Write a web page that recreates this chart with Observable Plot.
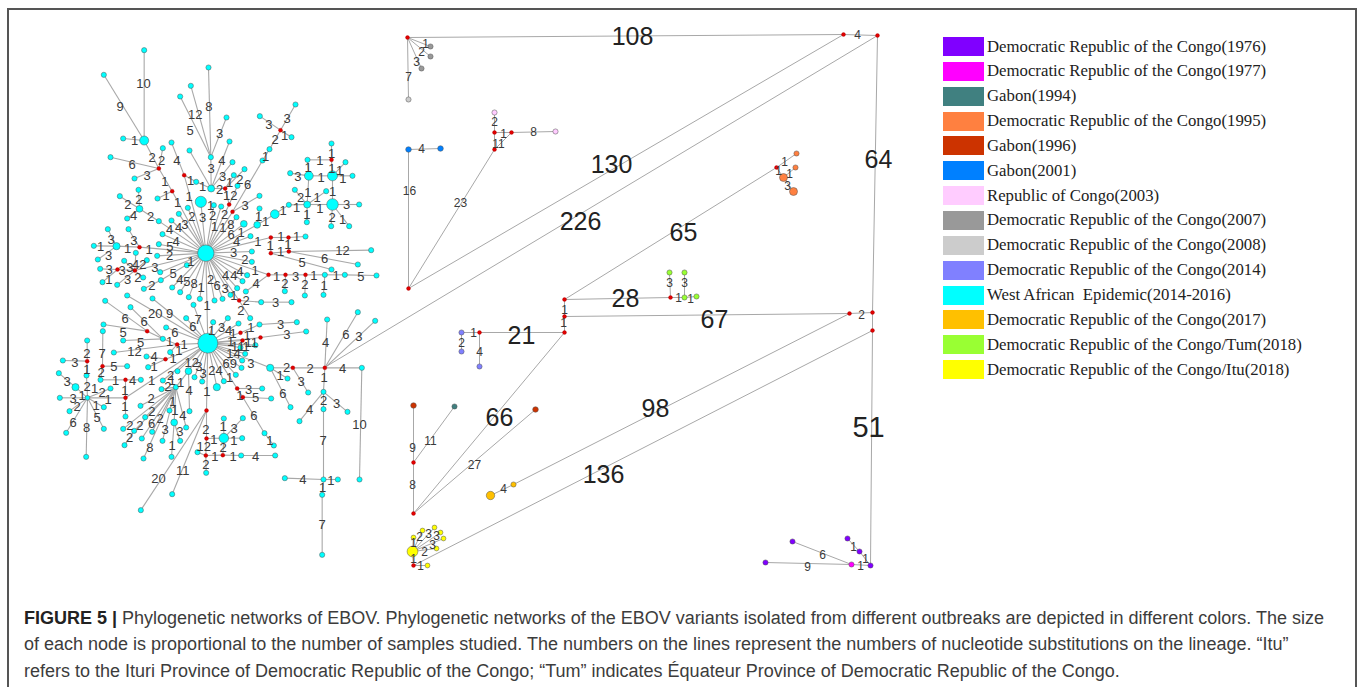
<!DOCTYPE html>
<html>
<head>
<meta charset="utf-8">
<script src="https://cdn.jsdelivr.net/npm/d3@7"></script>
<script src="https://cdn.jsdelivr.net/npm/@observablehq/plot@0.6"></script>
<style>
html,body{margin:0;padding:0;background:#fff;overflow:hidden}
#wrap{position:relative;width:1357px;height:687px;overflow:hidden}
#frame{position:absolute;left:7px;top:8px;width:1346px;height:690px;border:2px solid #555;box-sizing:content-box;pointer-events:none}
#chart{position:absolute;left:0;top:0}
#legend{position:absolute;left:943px;top:0;font-family:"Liberation Serif",serif;font-size:16.75px;color:#222}
#legend .row{position:absolute;left:0;height:19px;white-space:pre}
#legend .sw{position:absolute;left:0;top:0;width:41px;height:19px}
#legend .tx{position:absolute;left:44px;top:-0.5px;line-height:19px}
#caption{position:absolute;left:24px;top:605px;font-family:"Liberation Sans",Arial,sans-serif;font-size:18px;line-height:26.4px;color:#3c3c3c;white-space:pre}
#caption b{color:#222}
</style>
</head>
<body>
<div id="wrap"><div id="chart"></div><div id="legend"></div><div id="caption"></div><div id="frame"></div></div>
<script>
// ---------- legend ----------
const outbreakNames = [
  "Democratic Republic of the Congo(1976)","Democratic Republic of the Congo(1977)","Gabon(1994)",
  "Democratic Republic of the Congo(1995)","Gabon(1996)","Gabon(2001)","Republic of Congo(2003)",
  "Democratic Republic of the Congo(2007)","Democratic Republic of the Congo(2008)",
  "Democratic Republic of the Congo(2014)","West African  Epidemic(2014-2016)",
  "Democratic Republic of the Congo(2017)","Democratic Republic of the Congo/Tum(2018)",
  "Democratic Republic of the Congo/Itu(2018)"];
const outbreakColors = ["#8000ff","#ff00ff","#408080","#ff8040","#cc3300","#0080ff","#ffccff",
  "#999999","#cccccc","#8080ff","#00ffff","#ffc000","#99ff33","#ffff00"];
const medianName = "median vector", medianColor = "#e00000";

// ---------- West African cluster, upper half: [centre, [neighbours...]] ----------
const northStars = [
 [[466,638],[[600,587],[604,633],[604,664],[590,704],[576,722],[560,743],[540,763],[516,775],[492,780],[448,775],[415,770],[389,755],[365,741],[331,719],[409,674],[329,695],[320,646],[325,611],[336,581],[363,540],[385,520],[412,502],[451,484],[490,494],[512,498],[558,530],[580,550],[620,553],[365,452],[401,404],[546,514],[536,492],[661,591],[654,703],[325,542],[267,620],[253,690]]],
 [[281,300],[[281,29],[160,103],[218,294],[325,384]]],
 [[325,384],[[337,323],[180,350],[252,414],[365,452]]],
 [[365,452],[[321,474]]],
 [[401,404],[[363,306],[437,424]]],
 [[437,424],[[482,444]]],
 [[482,444],[[481,350],[417,330],[537,303],[546,365],[524,444]]],
 [[481,350],[[474,81],[421,136],[389,168],[528,231]]],
 [[524,444],[[550,404],[582,386],[536,492]]],
 [[536,492],[[561,436]]],
 [[546,514],[[636,360],[627,466]]],
 [[636,360],[[657,326]]],
 [[657,326],[[690,269]]],
 [[690,269],[[628,227],[735,192],[723,290]]],
 [[620,553],[[673,521],[627,504]]],
 [[673,521],[[715,493]]],
 [[715,493],[[770,492]]],
 [[770,492],[[846,492],[769,545],[733,448],[827,452],[775,406]]],
 [[846,492],[[926,492],[842,557],[896,557],[846,406]]],
 [[775,406],[[719,398],[846,406],[771,358]]],
 [[846,406],[[843,358],[885,365],[906,406]]],
 [[843,358],[[771,358],[843,309]]],
 [[661,591],[[714,591],[661,638]]],
 [[714,591],[[765,588],[715,633]]],
 [[661,638],[[715,633],[843,687]]],
 [[715,633],[[962,629],[922,672]]],
 [[654,703],[[586,753],[705,703]]],
 [[705,703],[[703,752],[765,703]]],
 [[765,703],[[763,765],[823,703]]],
 [[823,703],[[819,763],[883,703]]],
 [[883,703],[[978,705]]],
 [[267,505],[[208,467],[264,448],[230,534],[325,542]]],
 [[198,617],[[172,566],[130,616],[142,657],[267,620]]],
 [[267,620],[[234,566]]],
 [[253,690],[[256,637],[221,661],[289,659],[201,687],[200,733],[278,711]]],
 [[201,687],[[149,685],[156,725]]],
 [[331,719],[[280,745]]]
];
const northMedians = [[325,384],[365,452],[401,404],[524,444],[536,492],[546,514],[690,269],[843,358],[661,591],[714,591],[661,638],[715,633],[654,703],[705,703],[765,703],[267,620],[253,690],[201,687]];
const northLarge = [[466,638,8.2],[281,300,4.5],[482,444,3.5],[451,484,5.6],[267,505,3.4],[198,617,3.6],[580,550,3.4],[620,553,3.4],[673,521,4.4],[770,492,3.5],[846,492,5.8],[775,406,4.4],[846,406,5]];
const northLabels = [
 [279,130,"10"],[209,198,"9"],[252,300,"1"],[305,352,"2"],[333,362,"2"],[245,373,"6"],[290,406,"3"],[379,362,"4"],[343,424,"1"],[347,467,"1"],[381,487,"1"],[416,468,"1"],[420,420,"1"],[456,440,"1"],[434,222,"12"],[419,270,"5"],[475,200,"8"],[507,280,"3"],[514,362,"4"],[482,385,"3"],[516,408,"3"],[507,448,"2"],[537,428,"1"],[568,417,"2"],[591,433,"6"],[645,350,"1"],[674,297,"2"],[655,254,"3"],[710,235,"3"],[702,287,"1"],[539,465,"12"],[584,496,"3"],[486,525,"2"],[522,522,"2"],[456,533,"3"],[480,495,"1"],[424,530,"2"],[403,554,"3"],[384,562,"4"],[357,569,"4"],[492,558,"1"],[517,562,"1"],[541,552,"8"],[542,583,"6"],[572,578,"1"],[558,604,"4"],[622,603,"1"],[549,638,"3"],[583,658,"2"],[614,692,"1"],[617,731,"4"],[568,694,"4"],[550,707,"4"],[525,707,"4"],[524,744,"3"],[500,735,"6"],[480,718,"2"],[452,741,"1"],[431,729,"8"],[409,723,"5"],[388,718,"4"],[368,701,"5"],[304,736,"2"],[421,664,"1"],[313,681,"3"],[357,647,"2"],[358,618,"5"],[377,603,"4"],[296,628,"1"],[250,600,"3"],[231,625,"1"],[182,597,"3"],[150,620,"1"],[174,646,"3"],[232,493,"2"],[265,477,"2"],[249,525,"4"],[300,530,"2"],[238,681,"3"],[266,672,"42"],[215,692,"3"],[176,688,"3"],[175,718,"1"],[231,717,"3"],[262,711,"2"],
 [645,543,"1"],[624,530,"1"],[698,511,"1"],[738,503,"1"],[808,505,"1"],[888,493,"3"],[845,533,"2"],[876,537,"1"],[846,453,"1"],[769,523,"1"],[750,473,"2"],[800,472,"1"],[772,458,"1"],[742,408,"3"],[812,411,"1"],[844,384,"1"],[808,360,"1"],[773,382,"1"],[843,340,"1"],[867,390,"1"],[877,414,"1"],[691,590,"1"],[738,590,"1"],[659,617,"1"],[712,613,"1"],[690,633,"1"],[876,632,"12"],[822,655,"6"],[755,668,"5"],[678,710,"1"],[703,730,"2"],[735,708,"3"],[763,733,"2"],[790,707,"1"],[821,735,"1"],[857,707,"1"],[931,708,"5"]
];

// ---------- West African cluster, lower half ----------
const southStars = [
 [[472,158],[[230,15],[306,24],[429,43],[407,83],[347,111],[488,95],[532,83],[564,99],[570,127],[630,141],[576,150],[615,164],[570,171],[584,190],[575,210],[573,232],[659,232],[556,253],[520,272],[499,290],[560,294],[468,360],[432,260],[455,273],[414,242],[381,242],[337,270],[380,162],[345,206],[225,322],[466,-112]]],
 [[566,30],[[466,-112],[632,35],[599,83]]],
 [[632,35],[[723,35]]],
 [[337,145],[[240,50],[380,162],[218,150],[290,122]]],
 [[290,122],[[164,31],[159,102]]],
 [[380,162],[[190,186],[359,185]]],
 [[345,206],[[288,198],[293,230]]],
 [[570,127],[[627,102]]],
 [[627,102],[[739,95]]],
 [[630,141],[[767,123]]],
 [[659,232],[[727,232],[711,264],[720,350]]],
 [[727,232],[[773,306],[823,232]]],
 [[823,232],[[922,65],[974,91],[830,87],[934,232],[819,304]]],
 [[934,232],[[927,567]]],
 [[819,304],[[747,392],[891,364],[819,356]]],
 [[819,356],[[819,567]]],
 [[819,567],[[703,563],[862,567],[815,613]]],
 [[815,613],[[815,793]]],
 [[468,360],[[271,659],[365,611],[468,444]]],
 [[468,444],[[520,443],[466,495]]],
 [[520,443],[[520,384],[577,383],[575,443],[517,494]]],
 [[466,495],[[441,485],[517,494],[467,547]]],
 [[517,494],[[572,495]]],
 [[572,495],[[674,495]]],
 [[560,294],[[635,294],[577,320]]],
 [[577,320],[[662,324],[642,428]]],
 [[642,428],[[670,465]]],
 [[414,242],[[417,362],[376,290]]],
 [[376,290],[[371,396],[407,411],[357,360],[270,346],[284,380],[251,421],[218,415],[305,424],[274,444],[336,451],[279,504],[333,296]]],
 [[371,396],[[363,499],[389,451]]],
 [[251,421],[[222,464]]],
 [[225,322],[[225,268],[111,322],[225,378]]],
 [[225,268],[[150,268],[271,268]]],
 [[150,268],[[156,227]]],
 [[156,227],[[157,122],[230,227]]],
 [[111,322],[[75,290],[28,322],[57,362],[47,427],[107,499],[160,415],[160,350],[180,294],[108,255]]],
 [[75,290],[[25,248]]],
 [[108,255],[[110,212]]],
 [[110,212],[[37,210],[110,150]]]
];
const southMedians = [[566,30],[290,122],[380,162],[345,206],[570,127],[630,141],[576,150],[560,294],[577,320],[727,232],[823,232],[468,360],[468,444],[466,495],[517,494],[225,322],[225,268],[156,227],[110,212]];
const southLarge = [[472,158,10],[659,232,3.6],[414,242,3.4],[499,290,3.6],[371,396,3.4],[520,443,4.8],[75,290,3.6],[111,322,2.4],[466,-112,8.2]];
const southLabels = [
 [587,30,"2"],[675,37,"3"],[571,62,"2"],[550,17,"1"],[470,47,"1"],[314,70,"20"],[357,70,"9"],[224,85,"6"],[281,94,"6"],[218,127,"5"],[270,157,"5"],[357,153,"1"],[401,162,"1"],[252,185,"12"],[385,180,"1"],[311,200,"4"],[311,228,"1"],[368,205,"1"],[443,87,"7"],[427,110,"6"],[373,126,"6"],[483,120,"1"],[513,112,"3"],[534,122,"4"],[601,112,"1"],[690,102,"3"],[548,130,"1"],[709,133,"3"],[590,135,"1"],[602,157,"11"],[540,155,"1"],[552,170,"1"],[572,170,"1"],[587,170,"1"],[549,190,"14"],[538,221,"69"],[601,221,"3"],[708,232,"2"],[689,257,"1"],[697,311,"6"],[752,273,"3"],[779,236,"2"],[886,134,"6"],[925,138,"3"],[825,156,"4"],[876,236,"4"],[927,402,"10"],[821,262,"1"],[777,358,"4"],[858,340,"3"],[819,332,"2"],[818,452,"7"],[757,567,"4"],[841,570,"1"],[816,592,"1"],[815,704,"7"],
 [469,305,"1"],[324,565,"20"],[397,540,"11"],[460,470,"12"],[466,417,"2"],[490,447,"1"],[518,410,"1"],[551,415,"3"],[550,450,"1"],[518,473,"2"],[493,498,"1"],[548,498,"1"],[615,498,"4"],[466,522,"2"],[495,242,"24"],[537,262,"1"],[594,297,"3"],[615,323,"5"],[610,376,"6"],[658,450,"1"],[568,315,"1"],[424,216,"12"],[445,230,"3"],[458,250,"3"],[416,302,"4"],[390,278,"1"],[367,335,"1"],[365,467,"1"],[388,423,"3"],[397,375,"4"],[373,362,"1"],[302,326,"2"],[304,363,"2"],[268,407,"2"],[238,405,"2"],[237,443,"2"],[303,400,"6"],[329,385,"2"],[344,419,"3"],[298,473,"8"],[352,288,"2"],[360,255,"2"],[365,272,"1"],[303,270,"1"],[223,300,"1"],[195,271,"1"],[246,271,"4"],[152,248,"2"],[155,190,"7"],[190,230,"5"],[173,327,"1"],[223,348,"1"],[50,273,"3"],[68,325,"3"],[80,348,"2"],[68,397,"6"],[108,412,"8"],[140,382,"5"],[137,347,"1"],[155,306,"2"],[110,290,"2"],[109,238,"1"],[73,217,"3"],[109,190,"2"],[132,295,"1"],[95,315,"1"]
];

// ---------- other outbreaks, long branches ----------
const longEdges = [
 [407,37,843,34],[843,34,877,35],[408,288,843,34],[324,367,877,35],[877,35,872,312],[872,312,872,330],[872,330,870,565],
 [851,564,870,565],[851,564,792,541],[851,564,765,562],[870,565,859,551],[859,551,847,538],
 [849,313,872,312],[564,316,849,313],[513,484,849,313],[413,565,872,330],[490,495,513,484],
 [564,299,776,167],[564,299,670,297],[564,299,564,316],[564,316,564,332],[564,332,413,513],[564,332,479,332],
 [479,332,461,332],[461,332,461,351],[479,332,479,366],[670,297,684,297],[684,297,696,296],[670,297,669,272],[684,297,684,272],
 [776,167,796,153],[776,167,783,177],[783,177,795,167],[783,177,793,191],
 [413,513,413,462],[413,462,413,405],[413,462,454,406],[413,513,535,409],
 [408,288,408,149],[408,149,440,148],[408,288,494,149],[494,149,494,132],[494,149,511,132],[494,132,511,132],[494,132,494,112],[511,132,555,131],
 [407,37,430,46],[407,37,430,56],[407,37,421,68],[407,37,408,99],
 [413,565,412,551],[412,551,413,537],[412,551,422,530],[412,551,434,527],[412,551,440,532],[412,551,443,538],[412,551,436,548],[413,565,427,565]
];
const otherNodes = [
 [407,37,14,2],[843,34,14,2],[877,35,14,2],[408,288,14,2],[872,312,14,2],[849,313,14,2],[872,330,14,2],[564,299,14,2],[564,316,14,2],[564,332,14,2],[776,167,14,2],[670,297,14,2],[479,332,14,2],[413,462,14,2],[413,513,14,2],[494,149,14,2],[494,132,14,2],[511,132,14,2],[413,565,14,2],
 [870,565,0,2.6],[859,551,0,2.6],[847,538,0,2.6],[792,541,0,2.6],[765,562,0,2.6],[851,564,1,2.6],
 [454,406,2,2.6],[796,153,3,2.6],[795,167,3,2.6],[783,177,3,4],[793,191,3,4],
 [413,405,4,2.8],[535,409,4,2.8],[408,149,5,2.8],[440,148,5,2.8],[494,112,6,2.6],[555,131,6,2.6],
 [430,46,7,2.6],[430,56,7,2.6],[421,68,7,2.6],[408,99,8,2.6],
 [461,332,9,2.6],[461,351,9,2.6],[479,366,9,2.6],
 [490,495,11,4.2],[513,484,11,2.6],
 [669,272,12,2.6],[684,272,12,2.6],[684,297,12,2.6],[696,296,12,2.6],
 [412,551,13,5.4],[413,537,13,2.4],[422,530,13,2.4],[434,527,13,2.4],[440,532,13,2.4],[443,538,13,2.4],[436,548,13,2.4],[427,565,13,2.4]
];
const smallLabels = [
 [425,44,"1"],[421,52,"2"],[416,62,"3"],[408,77,"7"],[494,122,"2"],[503,134,"1"],[533,132,"8"],[498,144,"11"],[460,203,"23"],[421,149,"4"],[409,191,"16"],[857,35,"4"],[861,315,"2"],
 [564,310,"1"],[563,323,"1"],[473,333,"1"],[461,343,"2"],[479,352,"4"],[412,448,"9"],[430,441,"11"],[412,485,"8"],[474,465,"27"],[503,489,"4"],
 [420,566,"1"],[419,537,"2"],[428,534,"3"],[436,536,"3"],[432,545,"3"],[424,552,"2"],[413,543,"1"],[413,559,"1"],
 [784,162,"1"],[789,174,"1"],[787,186,"3"],[778,171,"1"],[669,283,"3"],[684,283,"3"],[678,298,"1"],[690,299,"1"],
 [822,555,"6"],[807,567,"9"],[860,566,"1"],[853,547,"1"],[865,559,"1"]
];
const bigLabels = [
 [632,36,"108"],[611,164,"130"],[580,221,"226"],[878,159,"64"],[683,232,"65"],[625,298,"28"],[714,319,"67"],[521,335,"21"],[499,417,"66"],[655,408,"98"],[603,474,"136"]
];
const largestLabels = [[868,427,"51"]];
const captionLines = [
 ["FIGURE 5 | ","Phylogenetic networks of EBOV. Phylogenetic networks of the EBOV variants isolated from different outbreaks are depicted in different colors. The size"],
 ["","of each node is proportional to the number of samples studied. The numbers on the lines represent the numbers of nucleotide substitutions on the lineage. “Itu”"],
 ["","refers to the Ituri Province of Democratic Republic of the Congo; “Tum” indicates Équateur Province of Democratic Republic of the Congo."]
];

// ---------- assemble ----------
const toNorth = ([a,b]) => [50+a/3, 40+b/3];
const toSouth = ([a,b]) => [50+a/3, 290+b/3];
const edges = [], nodeMap = new Map(), labels = [];
function addPanel(stars, medians, large, labs, proj){
  for(const [c,ns] of stars){
    for(const n of [c,...ns]) nodeMap.set(proj(n).join(), {p:proj(n), r:2.6, o:outbreakNames[10]});
    for(const n of ns){ const a=proj(c), b=proj(n); edges.push({x1:a[0],y1:a[1],x2:b[0],y2:b[1]}); }
  }
  for(const m of medians) nodeMap.set(proj(m).join(), {p:proj(m), r:2, o:medianName});
  for(const [a,b,r] of large) nodeMap.set(proj([a,b]).join(), {p:proj([a,b]), r, o:outbreakNames[10]});
  for(const [a,b,t] of labs){ const q=proj([a,b]); labels.push({x:q[0],y:q[1],t}); }
}
addPanel(northStars,northMedians,northLarge,northLabels,toNorth);
addPanel(southStars,southMedians,southLarge,southLabels,toSouth);
const nodes = [...nodeMap.values()].map(d=>({x:d.p[0],y:d.p[1],r:d.r,o:d.o}));
for(const [x,y,i,r] of otherNodes) nodes.push({x,y,r,o:i===14?medianName:outbreakNames[i]});
const sampled = nodes.filter(d=>d.o!==medianName), medians = nodes.filter(d=>d.o===medianName);
const longs = longEdges.map(([x1,y1,x2,y2])=>({x1,y1,x2,y2}));
const asText = ([x,y,t])=>({x,y,t});

const chart = Plot.plot({
  width:1357, height:590, margin:0,
  x:{domain:[0,1357],range:[0,1357],axis:null},
  y:{domain:[0,590],range:[0,590],axis:null},
  r:{type:"identity"},
  color:{domain:[...outbreakNames,medianName],range:[...outbreakColors,medianColor]},
  style:{background:"transparent",overflow:"visible"},
  marks:[
    Plot.link(edges,{x1:"x1",y1:"y1",x2:"x2",y2:"y2",stroke:"#a8a8a8",strokeWidth:1.1}),
    Plot.link(longs,{x1:"x1",y1:"y1",x2:"x2",y2:"y2",stroke:"#a8a8a8",strokeWidth:1}),
    Plot.dot(sampled,{x:"x",y:"y",r:"r",fill:"o",stroke:"#555",strokeWidth:0.5}),
    Plot.dot(medians,{x:"x",y:"y",r:"r",fill:"o",stroke:"#a00000",strokeWidth:0.3}),
    Plot.text(labels,{x:"x",y:"y",text:"t",fontSize:13,fontFamily:"Liberation Sans",fill:"#3a3a3a"}),
    Plot.text(smallLabels.map(asText),{x:"x",y:"y",text:"t",fontSize:12,fontFamily:"Liberation Sans",fill:"#3a3a3a"}),
    Plot.text(bigLabels.map(asText),{x:"x",y:"y",text:"t",fontSize:25,fontFamily:"Liberation Sans",fill:"#222"}),
    Plot.text(largestLabels.map(asText),{x:"x",y:"y",text:"t",fontSize:29,fontFamily:"Liberation Sans",fill:"#222"})
  ]
});
document.getElementById("chart").appendChild(chart);

const legend = document.getElementById("legend");
outbreakNames.forEach((name,i)=>{
  const row = document.createElement("div");
  row.className = "row";
  row.style.top = (37 + i*24.85) + "px";
  const sw = document.createElement("div");
  sw.className = "sw";
  sw.style.background = outbreakColors[i];
  const tx = document.createElement("div");
  tx.className = "tx";
  tx.textContent = name;
  row.append(sw,tx);
  legend.appendChild(row);
});
const cap = document.getElementById("caption");
captionLines.forEach(([lead,body])=>{
  const line = document.createElement("div");
  if(lead){ const b=document.createElement("b"); b.textContent=lead; line.appendChild(b); }
  line.appendChild(document.createTextNode(body));
  cap.appendChild(line);
});
</script>
</body>
</html>
